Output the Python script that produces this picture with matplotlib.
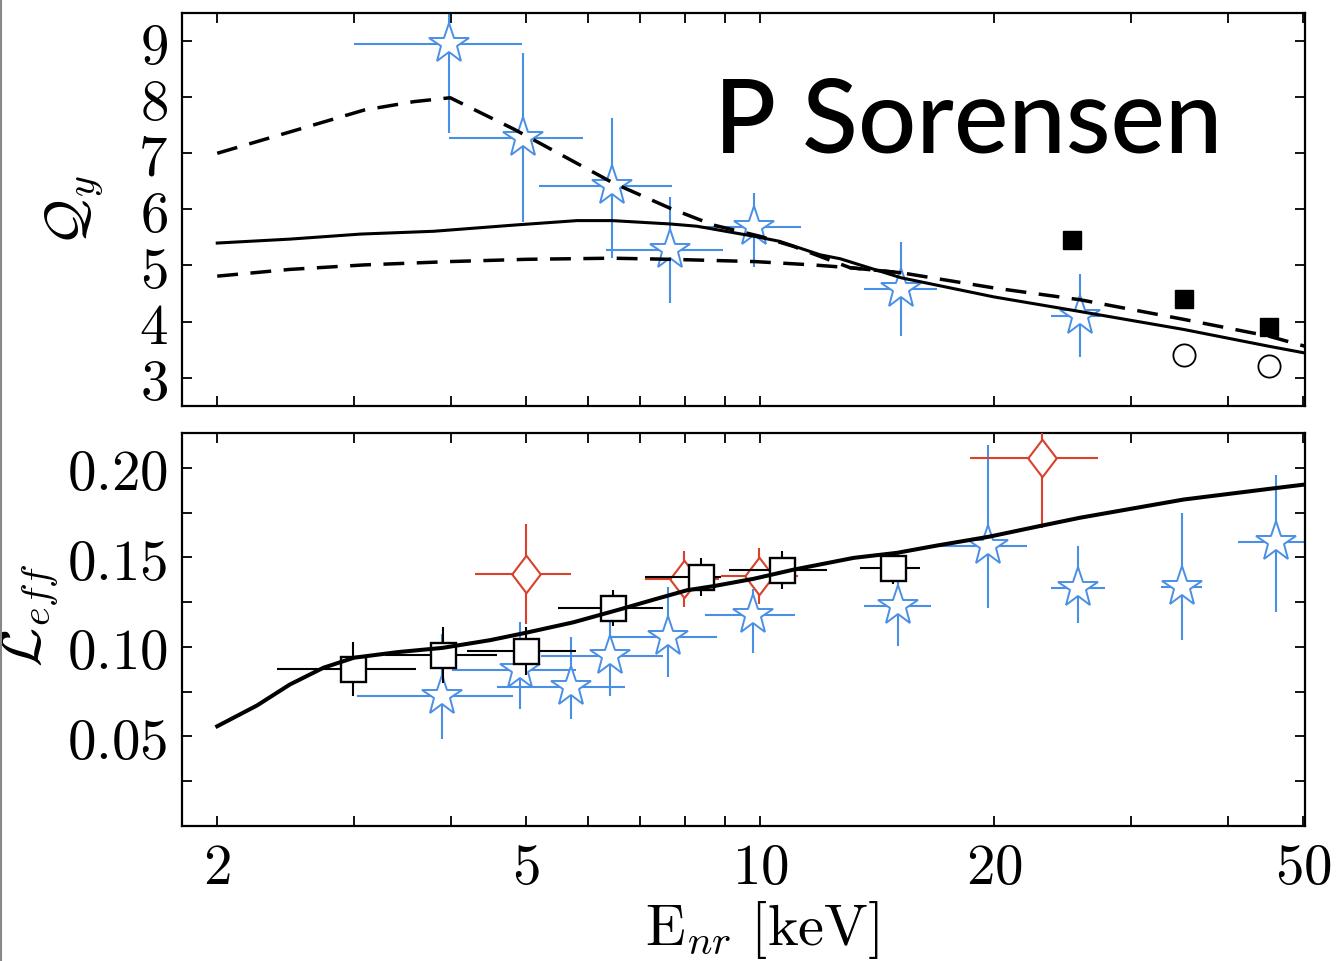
import numpy as np
import matplotlib
matplotlib.use("Agg")
import matplotlib.pyplot as plt
from matplotlib.ticker import FixedLocator, FixedFormatter, NullFormatter
from matplotlib.lines import Line2D

plt.rcParams["mathtext.fontset"] = "cm"

# ---------------- Q_y panel data ----------------
qy_star_E = [3.97, 4.95, 6.45, 7.66, 9.83, 15.2, 25.8]
qy_star_Elo = [3.00, 3.97, 5.19, 6.34, 8.31, 13.6, 23.7]
qy_star_Ehi = [4.93, 5.92, 7.70, 8.97, 11.3, 16.9, 27.4]
qy_star_Q = [8.95, 7.28, 6.41, 5.28, 5.69, 4.58, 4.10]
qy_star_Qlo = [7.37, 5.78, 5.14, 4.33, 4.98, 3.75, 3.36]
qy_star_Qhi = [10.5, 8.78, 7.63, 6.22, 6.30, 5.41, 4.84]

qy_fsq_E = [25.2, 35.1, 45.2]
qy_fsq_Q = [5.45, 4.41, 3.90]

qy_circ_E = [35.1, 45.2]
qy_circ_Q = [3.40, 3.21]

qy_model_E = [2.0, 2.48, 3.06, 3.80, 4.82, 5.81, 6.45, 7.66, 8.29, 9.83, 10.6,
              11.95, 12.68, 15.2, 20.0, 25.8, 35.1, 45.2, 50.3]
qy_model_Q = [5.40, 5.47, 5.56, 5.61, 5.72, 5.80, 5.80, 5.74, 5.70, 5.52, 5.43,
              5.19, 5.12, 4.78, 4.44, 4.18, 3.86, 3.56, 3.44]

qy_upper_E = [2.0, 2.48, 3.09, 3.58, 3.99, 4.82, 6.47, 7.66, 8.71, 10.0, 11.04, 13.06]
qy_upper_Q = [7.00, 7.38, 7.77, 7.92, 7.99, 7.43, 6.47, 6.02, 5.72, 5.52, 5.34, 4.96]
qy_lower_E = [2.0, 2.48, 3.09, 3.99, 5.0, 6.45, 7.66, 9.83, 11.7, 13.06]
qy_lower_Q = [4.81, 4.93, 5.01, 5.07, 5.11, 5.13, 5.11, 5.07, 5.01, 4.96]
qy_band_tail_E = [15.2, 20.0, 25.8, 35.1, 45.2, 50.3]
qy_band_tail_Q = [4.87, 4.60, 4.39, 4.04, 3.74, 3.56]

# ---------------- L_eff panel data ----------------
le_model_E = [2.0, 2.25, 2.48, 2.74, 3.0, 3.41, 3.90, 4.49, 4.99, 5.75, 6.61, 7.30,
              8.05, 8.71, 9.81, 11.04, 13.2, 15.0, 16.9, 19.7, 23.1, 25.8, 35.1, 46.3, 50.3]
le_model_L = [0.0556, 0.0672, 0.0789, 0.0883, 0.0939, 0.0970, 0.0994, 0.1037, 0.1078,
              0.1137, 0.1210, 0.1264, 0.1316, 0.1339, 0.1380, 0.1431, 0.1497, 0.1525,
              0.1566, 0.1615, 0.1678, 0.1721, 0.1823, 0.1888, 0.1907]

le_sq_E = [2.99, 3.90, 4.99, 6.47, 8.40, 10.68, 14.83]
le_sq_Elo = [2.39, 3.29, 4.20, 5.50, 7.10, 9.13, 13.45]
le_sq_Ehi = [3.61, 4.59, 5.80, 7.49, 8.90, 12.2, 16.07]
le_sq_L = [0.0875, 0.0954, 0.0976, 0.1217, 0.1390, 0.1429, 0.1440]
le_sq_Lerr = [0.015, 0.0155, 0.0135, 0.0098, 0.0106, 0.0104, 0.009]

le_di_E = [4.99, 7.99, 9.98, 23.05]
le_di_Elo = [4.29, 7.10, 8.91, 18.62]
le_di_Ehi = [5.70, 8.86, 11.18, 27.2]
le_di_L = [0.1407, 0.1379, 0.1396, 0.2056]
le_di_Lerr = [0.028, 0.0155, 0.0155, 0.039]

le_star_E = [3.89, 4.91, 5.70, 6.40, 7.62, 9.80, 15.05, 19.65, 25.7, 34.9, 46.1]
le_star_Elo = [3.03, 4.01, 4.58, 5.23, 6.40, 8.50, 13.6, 17.0, 23.7, 32.8, 41.2]
le_star_Ehi = [4.80, 5.80, 6.69, 7.49, 8.81, 11.1, 16.6, 22.06, 27.8, 37.1, 51.6]
le_star_L = [0.0724, 0.087, 0.0774, 0.0948, 0.1054, 0.1177, 0.1228, 0.1564, 0.1328, 0.1334, 0.1586]
le_star_Llo = [0.0483, 0.0651, 0.0595, 0.0724, 0.083, 0.0965, 0.1004, 0.1217, 0.1133, 0.1038, 0.1194]
le_star_Lhi = [0.1071, 0.1138, 0.1054, 0.1155, 0.1334, 0.1323, 0.153, 0.2129, 0.1564, 0.1748, 0.1961]

# ---------------- axis ticks ----------------
x_major = [2, 5, 10, 20, 50]
x_major_labels = ["2", "5", "10", "20", "50"]
x_minor = [3, 4, 6, 7, 8, 9, 30, 40]
qy_ticks = [3, 4, 5, 6, 7, 8, 9]
le_ticks = [0.05, 0.10, 0.15, 0.20]
le_tick_labels = ["0.05", "0.10", "0.15", "0.20"]
le_minor = [0.025, 0.075, 0.125, 0.175]

BLUE = "#4a8fe6"
RED = "#d8412b"


def xerr_of(c, lo, hi):
    c = np.asarray(c)
    return np.vstack([c - np.asarray(lo), np.asarray(hi) - c])


def style_axes(ax):
    ax.set_xscale("log")
    ax.set_xlim(1.8, 50.3)
    ax.xaxis.set_major_locator(FixedLocator(x_major))
    ax.xaxis.set_minor_locator(FixedLocator(x_minor))
    ax.xaxis.set_minor_formatter(NullFormatter())
    ax.tick_params(which="both", direction="in", top=True, right=True,
                   length=7, width=1.3, labelsize=41, pad=10)
    for s in ax.spines.values():
        s.set_linewidth(1.6)


fig = plt.figure(figsize=(13.39, 9.62), dpi=100)
ax1 = fig.add_axes([0.1357, 0.5772, 0.8389, 0.4082])
ax2 = fig.add_axes([0.1357, 0.1406, 0.8389, 0.4083])

# ---------------- top: Q_y ----------------
style_axes(ax1)
ax1.set_ylim(2.5, 9.5)
ax1.yaxis.set_major_locator(FixedLocator(qy_ticks))
ax1.yaxis.set_major_formatter(FixedFormatter([f"${t}$" for t in qy_ticks]))
ax1.xaxis.set_major_formatter(NullFormatter())

star_kw = dict(fmt="*", ms=30, mfc="white", mec=BLUE, mew=1.4,
               ecolor=BLUE, elinewidth=1.5, capsize=0)
qy_yerr = np.vstack([np.asarray(qy_star_Q) - np.asarray(qy_star_Qlo),
                     np.asarray(qy_star_Qhi) - np.asarray(qy_star_Q)])
ax1.errorbar(qy_star_E, qy_star_Q, yerr=qy_yerr,
             xerr=xerr_of(qy_star_E, qy_star_Elo, qy_star_Ehi), zorder=2, **star_kw)
ax1.plot(qy_fsq_E, qy_fsq_Q, "s", ms=13.5, color="black", zorder=3)
ax1.plot(qy_circ_E, qy_circ_Q, "o", ms=16, mfc="white", mec="black", mew=1.3, zorder=3)

ax1.plot(qy_model_E, qy_model_Q, "-", color="black", lw=2.2, zorder=4)
# upper edge of the band continues into the common high-energy tail
ax1.plot(qy_upper_E + qy_band_tail_E, qy_upper_Q + qy_band_tail_Q,
         color="black", lw=2.5, dashes=(6, 3.6), zorder=4)
ax1.plot(qy_lower_E + qy_band_tail_E[:1], qy_lower_Q + qy_band_tail_Q[:1],
         color="black", lw=2.5, dashes=(6, 3.6), zorder=4)

ax1.text(0.474, 0.6486, "P Sorensen", transform=ax1.transAxes, ha="left",
         va="baseline", fontsize=74, family="Lato", fontweight="medium",
         color="black", zorder=5)

ax1.set_ylabel(r"$\mathcal{Q}_y$", fontsize=41, va="center")
ax1.yaxis.set_label_coords(-0.095, 0.50)

# ---------------- bottom: L_eff ----------------
style_axes(ax2)
ax2.set_ylim(0.0, 0.2195)
ax2.yaxis.set_major_locator(FixedLocator(le_ticks))
ax2.yaxis.set_minor_locator(FixedLocator(le_minor))
ax2.yaxis.set_major_formatter(FixedFormatter([f"${t}$" for t in le_tick_labels]))
ax2.xaxis.set_major_formatter(FixedFormatter([f"${t}$" for t in x_major_labels]))

le_star_yerr = np.vstack([np.asarray(le_star_L) - np.asarray(le_star_Llo),
                          np.asarray(le_star_Lhi) - np.asarray(le_star_L)])
ax2.errorbar(le_star_E, le_star_L, yerr=le_star_yerr,
             xerr=xerr_of(le_star_E, le_star_Elo, le_star_Ehi), zorder=2, **star_kw)

diamond = [(-0.38, 0.0), (0.0, 0.5), (0.38, 0.0), (0.0, -0.5), (-0.38, 0.0)]
ax2.errorbar(le_di_E, le_di_L, yerr=le_di_Lerr,
             xerr=xerr_of(le_di_E, le_di_Elo, le_di_Ehi),
             fmt="none", ecolor=RED, elinewidth=1.5, capsize=0, zorder=3)
ax2.plot(le_di_E, le_di_L, linestyle="none", marker=diamond, ms=27,
         mfc="white", mec=RED, mew=1.5, zorder=3)

ax2.errorbar(le_sq_E, le_sq_L, yerr=le_sq_Lerr,
             xerr=xerr_of(le_sq_E, le_sq_Elo, le_sq_Ehi),
             fmt="s", ms=18, mfc="white", mec="black", mew=1.7,
             ecolor="black", elinewidth=1.5, capsize=0, zorder=4)

ax2.plot(le_model_E, le_model_L, "-", color="black", lw=2.9, zorder=5)

ax2.set_ylabel(r"$\mathcal{L}_{eff}$", fontsize=41, va="center")
ax2.yaxis.set_label_coords(-0.135, 0.539)
ax2.set_xlabel(r"$\mathrm{E}_{nr}\ [\mathrm{keV}]$", fontsize=42, va="center")
ax2.xaxis.set_label_coords(0.517, -0.263)

fig.add_artist(Line2D([0.001, 0.001], [0, 1], transform=fig.transFigure,
                      color="#888888", lw=1.5))

fig.savefig("out.png", dpi=100)
